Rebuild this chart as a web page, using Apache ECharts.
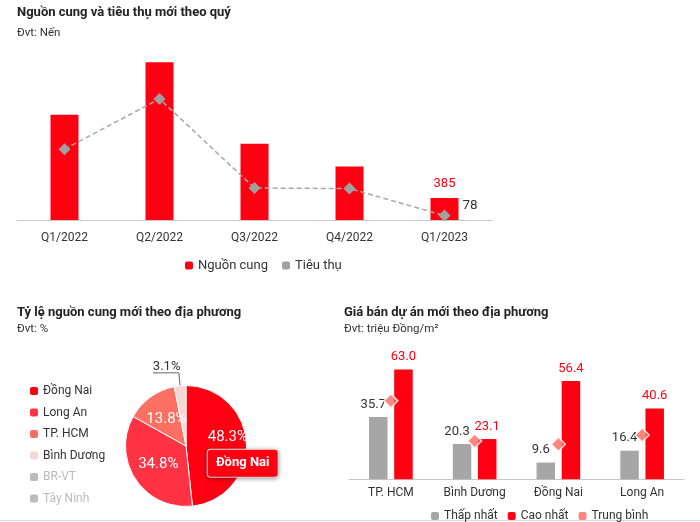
<!DOCTYPE html>
<html>
<head>
<meta charset="utf-8">
<script src="https://cdn.jsdelivr.net/npm/echarts/dist/echarts.min.js"></script>
<style>
html,body{margin:0;padding:0;background:#fff;}
#c{width:700px;height:522px;}
</style>
</head>
<body>
<div id="c"></div>
<script>
// ---- data ----
const quarters = ['Q1/2022', 'Q2/2022', 'Q3/2022', 'Q4/2022', 'Q1/2023'];
const supply = [1840, 2760, 1335, 935, 385];
const sales = [1240, 2120, 560, 550, 78];

const regions = ['Đồng Nai', 'Long An', 'TP. HCM', 'Bình Dương', 'BR-VT', 'Tây Ninh'];
const shares = [48.3, 34.8, 13.8, 3.1, 0, 0];

const priceCities = ['TP. HCM', 'Bình Dương', 'Đồng Nai', 'Long An'];
const priceMin = [35.7, 20.3, 9.6, 16.4];
const priceMax = [63.0, 23.1, 56.4, 40.6];
const priceAvg = [45.0, 22.0, 20.1, 25.4];

// ---- styles ----
const FONT = 'Roboto';
const RED = '#ff0013';
const GRAY = '#a6a6a6';
const SALMON = '#f8695f';
const pieColors = ['#ff0013', '#ff3343', '#fb7062', '#f8d6d6', '#bbbbbb', '#bbbbbb'];

const last = supply.length - 1;
const supplyData = supply.map((v, i) => i === last ? { value: v, label: { show: true } } : v);
const salesData = sales.map((v, i) => i === last ? { value: v, label: { show: true } } : v);

const pieData = regions.map((n, i) => ({ name: n, value: shares[i] }));
pieData[0].label = {
  formatter: p => '{p|' + p.value.toFixed(1) + '%}\n{n|' + p.name + '}',
  padding: [14, 0, 0, 47],
  rich: {
    p: { fontSize: 15, color: '#fff', align: 'left', width: 70, lineHeight: 24, fontFamily: FONT },
    n: { fontSize: 13, fontWeight: 'bold', color: '#fff', backgroundColor: RED, borderColor: '#fff', borderWidth: 1,
         borderRadius: 3, width: 70, height: 27, lineHeight: 27, align: 'center', fontFamily: FONT,
         shadowBlur: 4, shadowColor: 'rgba(0,0,0,0.35)', shadowOffsetY: 1 }
  }
};
pieData[3].label = { position: 'outside', color: '#333', fontSize: 13, distanceToLabelLine: 0 };
pieData[3].labelLine = { show: true, length: 13, length2: 26, lineStyle: { color: '#666', width: 1 } };

const chart = echarts.init(document.getElementById('c'));
const option = {
  animation: false,
  textStyle: { fontFamily: FONT },
  title: [
    { text: 'Nguồn cung và tiêu thụ mới theo quý', left: 17, top: 6, padding: 0, textStyle: { fontSize: 13, fontWeight: 'bold', color: '#222' } },
    { text: 'Đvt: Nến', left: 17, top: 27, padding: 0, textStyle: { fontSize: 11.5, fontWeight: 'normal', color: '#333' } },
    { text: 'Tỷ lệ nguồn cung mới theo địa phương', left: 17, top: 306, padding: 0, textStyle: { fontSize: 13, fontWeight: 'bold', color: '#222' } },
    { text: 'Đvt: %', left: 17, top: 323, padding: 0, textStyle: { fontSize: 11.5, fontWeight: 'normal', color: '#333' } },
    { text: 'Giá bán dự án mới theo địa phương', left: 344, top: 306, padding: 0, textStyle: { fontSize: 13, fontWeight: 'bold', color: '#222' } },
    { text: 'Đvt: triệu Đồng/m²', left: 344, top: 323, padding: 0, textStyle: { fontSize: 11.5, fontWeight: 'normal', color: '#333' } }
  ],
  legend: [
    { data: ['Nguồn cung', 'Tiêu thụ'], left: 180, top: 254, icon: 'roundRect', itemWidth: 8, itemHeight: 8, itemGap: 14,
      itemStyle: { borderWidth: 0 }, textStyle: { fontSize: 13, color: '#333' } },
    { data: regions, orient: 'vertical', left: 25, top: 380, icon: 'roundRect', itemWidth: 8, itemHeight: 8, itemGap: 9.5,
      selected: { 'BR-VT': false, 'Tây Ninh': false }, inactiveColor: '#bbb', inactiveBorderWidth: 0,
      itemStyle: { borderWidth: 0 }, textStyle: { fontSize: 12, color: '#333' } },
    { data: ['Thấp nhất', 'Cao nhất', 'Trung bình'], left: 426, top: 505, icon: 'roundRect', itemWidth: 8, itemHeight: 8, itemGap: 10,
      itemStyle: { borderWidth: 0 }, textStyle: { fontSize: 12, color: '#333' } }
  ],
  grid: [
    { left: 17, top: 48.6, width: 475, height: 171.4 },
    { left: 349, top: 357.3, width: 335, height: 122 }
  ],
  xAxis: [
    { type: 'category', gridIndex: 0, data: quarters, axisLine: { lineStyle: { color: '#c8c8c8' } }, axisTick: { show: false },
      axisLabel: { color: '#333', fontSize: 12, margin: 12 } },
    { type: 'category', gridIndex: 1, data: priceCities, axisLine: { lineStyle: { color: '#c8c8c8' } }, axisTick: { show: false },
      axisLabel: { color: '#333', fontSize: 12, margin: 8 } }
  ],
  yAxis: [
    { type: 'value', gridIndex: 0, min: 0, max: 3000, show: false, splitLine: { show: false } },
    { type: 'value', gridIndex: 1, min: 0, max: 70, show: false, splitLine: { show: false } }
  ],
  graphic: [
    { type: 'line', shape: { x1: 0, y1: 520.5, x2: 700, y2: 520.5 }, style: { stroke: '#dcdcdc', lineWidth: 1 }, silent: true }
  ],
  series: [
    { type: 'bar', name: 'Nguồn cung', xAxisIndex: 0, yAxisIndex: 0, data: supplyData, barWidth: 28,
      itemStyle: { color: RED }, label: { show: false, position: 'top', distance: 8, color: RED, fontSize: 13 } },
    { type: 'line', name: 'Tiêu thụ', xAxisIndex: 0, yAxisIndex: 0, data: salesData, symbol: 'diamond', symbolSize: 12,
      lineStyle: { color: '#a8a8a8', width: 1.5, type: [5, 3] }, itemStyle: { color: '#a0a0a0' },
      label: { show: false, position: 'right', distance: 12, offset: [0, -10], color: '#333', fontSize: 13.5 } },
    { type: 'pie', name: 'Tỷ lệ', center: [186, 446], radius: 60.5, startAngle: 90, clockwise: true, avoidLabelOverlap: false,
      data: pieData,
      itemStyle: { color: p => pieColors[p.dataIndex], borderColor: '#fff', borderWidth: 1 },
      label: { show: true, position: 'inside', color: '#fff', fontSize: 15, formatter: p => p.value.toFixed(1) + '%' },
      labelLine: { show: false },
      labelLayout: params => params.dataIndex === 3 ? { align: 'left', verticalAlign: 'bottom' } : {},
      emphasis: { disabled: true } },
    { type: 'bar', name: 'Thấp nhất', xAxisIndex: 1, yAxisIndex: 1, data: priceMin, barWidth: 18.5, barGap: '36%',
      itemStyle: { color: GRAY },
      label: { show: true, position: 'top', distance: 6, offset: [-5, 0], color: '#333', fontSize: 13, formatter: p => p.value.toFixed(1) } },
    { type: 'bar', name: 'Cao nhất', xAxisIndex: 1, yAxisIndex: 1, data: priceMax, barWidth: 18.5, barGap: '36%',
      itemStyle: { color: RED },
      label: { show: true, position: 'top', distance: 6, color: RED, fontSize: 13, formatter: p => p.value.toFixed(1) } },
    { type: 'scatter', name: 'Trung bình', xAxisIndex: 1, yAxisIndex: 1, data: priceAvg, symbol: 'diamond', symbolSize: 14, z: 5,
      itemStyle: { color: SALMON, borderColor: '#fff', borderWidth: 1.5 } }
  ]
};
chart.setOption(option);
</script>
</body>
</html>
